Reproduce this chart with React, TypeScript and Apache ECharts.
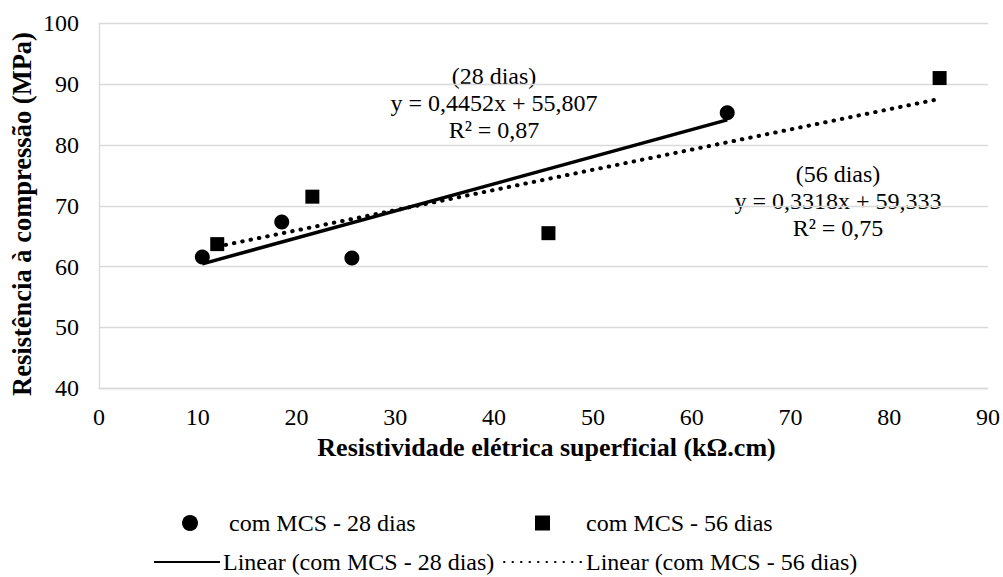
import React, { useEffect, useRef } from "react";
import * as echarts from "echarts";

// ---- data ----
const xTicksMin = 0;
const xTicksMax = 90;
const yTicksMin = 40;
const yTicksMax = 100;

const name28 = "com MCS - 28 dias";
const name56 = "com MCS - 56 dias";
const trendName28 = "Linear (com MCS - 28 dias)";
const trendName56 = "Linear (com MCS - 56 dias)";

const x28 = [10.46, 18.5, 25.6, 63.6];
const y28 = [61.6, 67.35, 61.4, 85.3];
const x56 = [11.97, 21.6, 45.5, 85.1];
const y56 = [63.7, 71.5, 65.5, 91.0];

const trend28X = [10.46, 63.6];
const trend28Y = [60.46, 84.12];
const trend56X = [11.97, 85.1];
const trend56Y = [63.3, 87.57];

const eq28 = ["(28 dias)", "y = 0,4452x + 55,807", "R² = 0,87"];
const eq56 = ["(56 dias)", "y = 0,3318x + 59,333", "R² = 0,75"];

const xTitle = "Resistividade elétrica superficial (kΩ.cm)";
const yTitle = "Resistência à compressão (MPa)";

const FONT = "Liberation Serif";

const zip = (xs: number[], ys: number[]) => xs.map((x, i) => [x, ys[i]]);

export default function App() {
  const ref = useRef<HTMLDivElement>(null);

  useEffect(() => {
    if (!ref.current) return;
    const chart = echarts.init(ref.current, undefined, { renderer: "svg" });
    const grid = "#d9d9d9";
    const legendText = { fontFamily: FONT, fontSize: 24, color: "#000" };

    chart.setOption({
      animation: false,
      backgroundColor: "#fff",
      textStyle: { fontFamily: FONT },
      grid: { left: 99, right: 15, top: 23.3, bottom: 188.7, containLabel: false },
      xAxis: {
        type: "value",
        min: xTicksMin,
        max: xTicksMax,
        interval: 10,
        name: xTitle,
        nameLocation: "middle",
        nameGap: 31,
        nameTextStyle: { fontFamily: FONT, fontSize: 26, fontWeight: "bold", color: "#000", padding: [0, 0, 0, 6] },
        axisLine: { show: true, lineStyle: { color: grid, width: 1.3 } },
        axisTick: { show: false },
        axisLabel: { fontFamily: FONT, fontSize: 24, color: "#000", margin: 17 },
        splitLine: { show: false },
      },
      yAxis: {
        type: "value",
        min: yTicksMin,
        max: yTicksMax,
        interval: 10,
        axisLine: { show: true, lineStyle: { color: grid, width: 1.3 } },
        axisTick: { show: false },
        axisLabel: { fontFamily: FONT, fontSize: 24, color: "#000", margin: 20 },
        splitLine: { show: true, lineStyle: { color: grid, width: 1.3 } },
      },
      legend: [
        {
          data: [{ name: name28, icon: "circle" }],
          left: 182, top: 511, padding: 0,
          itemWidth: 16, itemHeight: 16,
          textStyle: { ...legendText, padding: [0, 0, 0, 26] },
          selectedMode: false,
        },
        {
          data: [{ name: name56, icon: "rect" }],
          left: 535, top: 511, padding: 0,
          itemWidth: 15, itemHeight: 15,
          textStyle: { ...legendText, padding: [0, 0, 0, 31] },
          selectedMode: false,
        },
        {
          data: [{ name: trendName28, itemStyle: { opacity: 0 } }],
          left: 153, top: 550, padding: 0,
          itemWidth: 66, itemHeight: 14,
          itemStyle: { opacity: 0 },
          textStyle: { ...legendText, padding: [0, 0, 0, -2] },
          selectedMode: false,
        },
        {
          data: [{ name: trendName56, itemStyle: { opacity: 0 } }],
          left: 503, top: 550, padding: 0,
          itemWidth: 80, itemHeight: 14,
          itemStyle: { opacity: 0 },
          textStyle: { ...legendText, padding: [0, 0, 0, -3] },
          selectedMode: false,
        },
      ],
      series: [
        {
          name: trendName28,
          type: "line",
          data: zip(trend28X, trend28Y),
          symbol: "none",
          lineStyle: { color: "#000", width: 3.5, type: "solid" },
          itemStyle: { color: "#000" },
          z: 2,
        },
        {
          name: trendName56,
          type: "line",
          data: zip(trend56X, trend56Y),
          symbol: "none",
          lineStyle: { color: "#000", width: 4, type: [0.5, 8], cap: "round" },
          itemStyle: { color: "#000" },
          z: 2,
        },
        {
          name: name28,
          type: "scatter",
          data: zip(x28, y28),
          symbol: "circle",
          symbolSize: 15,
          itemStyle: { color: "#000", opacity: 1 },
          z: 3,
        },
        {
          name: name56,
          type: "scatter",
          data: zip(x56, y56),
          symbol: "rect",
          symbolSize: 14,
          itemStyle: { color: "#000", opacity: 1 },
          z: 3,
        },
      ],
      graphic: [
        {
          type: "text",
          x: 22,
          y: 214,
          rotation: Math.PI / 2,
          style: {
            text: yTitle,
            fontFamily: FONT,
            fontSize: 26.5,
            fontWeight: "bold",
            fill: "#000",
            align: "center",
            verticalAlign: "middle",
          },
        },
        {
          type: "text",
          x: 494,
          y: 103,
          style: {
            text: eq28.join("\n"),
            fontFamily: FONT,
            fontSize: 24,
            lineHeight: 27,
            fill: "#000",
            align: "center",
            verticalAlign: "middle",
          },
        },
        {
          type: "text",
          x: 838,
          y: 201,
          style: {
            text: eq56.join("\n"),
            fontFamily: FONT,
            fontSize: 24,
            lineHeight: 27,
            fill: "#000",
            align: "center",
            verticalAlign: "middle",
          },
        },
      ],
    });

    return () => chart.dispose();
  }, []);

  return (
    <div
      ref={ref}
      style={{ position: "fixed", left: 0, top: 0, width: 1003, height: 577, background: "#fff" }}
    />
  );
}
